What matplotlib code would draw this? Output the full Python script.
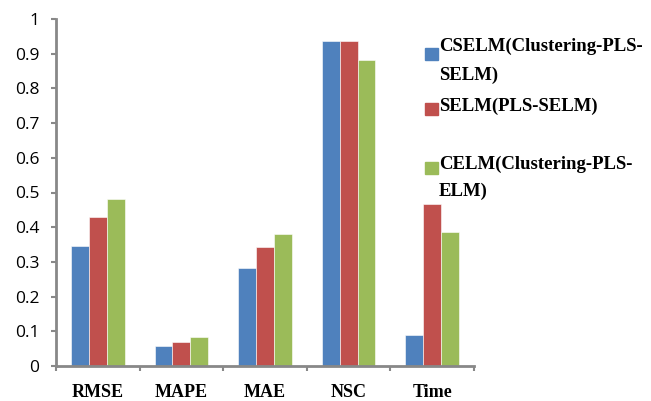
import matplotlib
matplotlib.use("Agg")
import matplotlib.pyplot as plt
import numpy as np
from matplotlib.patches import Rectangle

categories = ["RMSE", "MAPE", "MAE", "NSC", "Time"]
series_names = ["CSELM(Clustering-PLS-\nSELM)", "SELM(PLS-SELM)", "CELM(Clustering-PLS-\nELM)"]
cselm = [0.346, 0.058, 0.282, 0.938, 0.089]
selm = [0.428, 0.070, 0.344, 0.938, 0.467]
celm = [0.482, 0.083, 0.381, 0.882, 0.385]
colors = ["#4F81BD", "#C0504D", "#9BBB59"]

W, H = 651, 401
fig = plt.figure(figsize=(W / 100, H / 100), dpi=100)
ax = fig.add_axes([56 / W, 1 - 366 / H, (474 - 56) / W, (366 - 19) / H])

x = np.arange(len(categories))
bw = 0.213
for i, (vals, c) in enumerate(zip([cselm, selm, celm], colors)):
    ax.bar(x + (i - 1) * bw, vals, width=bw, color=c, edgecolor="white", linewidth=0.4)

ax.set_xlim(-0.5, len(categories) - 0.5)
ax.set_ylim(0, 1)
ax.set_yticks(np.arange(0, 1.01, 0.1))
ax.set_yticklabels(["0"] + [f"{v:.1f}" for v in np.arange(0.1, 0.95, 0.1)] + ["1"],
                   fontfamily="Open Sans", fontsize=12.5)
ax.set_xticks(np.arange(-0.5, len(categories), 1.0))
ax.set_xticklabels([])
ax.set_xticks(x, minor=True)
ax.set_xticklabels(categories, minor=True, fontfamily="Liberation Serif",
                   fontweight="bold", fontsize=13)
ax.tick_params(axis="x", which="minor", length=0, pad=13)
ax.tick_params(axis="x", which="major", direction="out", length=3.6, width=1.5, color="#888888")
ax.tick_params(axis="y", direction="out", length=3.6, width=1.5, color="#888888", pad=8.5)

for s in ["top", "right"]:
    ax.spines[s].set_visible(False)
for s in ["left", "bottom"]:
    ax.spines[s].set_color("#888888")
    ax.spines[s].set_linewidth(2)

# legend at the right of the axes
line_centers = [[46.5, 75], [106], [164.5, 191]]
square_tops = [48, 103, 162]
for name, c, ys, st in zip(series_names, colors, line_centers, square_tops):
    fig.patches.append(Rectangle((425 / W, 1 - (st + 12) / H), 13 / W, 12 / H,
                                 transform=fig.transFigure, color=c))
    for line, yc in zip(name.split("\n"), ys):
        fig.text(439 / W, 1 - yc / H, line, fontfamily="Liberation Serif",
                 fontweight="bold", fontsize=13.5, va="center", ha="left")

fig.savefig("out.png", dpi=100)
